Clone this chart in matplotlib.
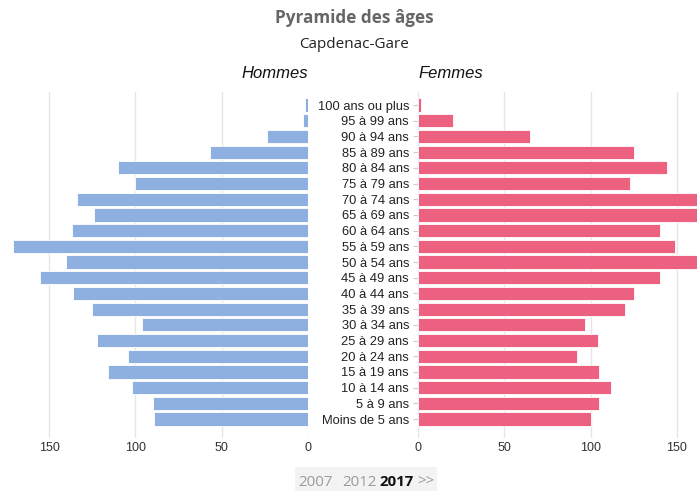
import matplotlib
matplotlib.use("Agg")
import matplotlib.pyplot as plt
from matplotlib.patches import Rectangle

categories = ["Moins de 5 ans", "5 à 9 ans", "10 à 14 ans", "15 à 19 ans", "20 à 24 ans",
              "25 à 29 ans", "30 à 34 ans", "35 à 39 ans", "40 à 44 ans", "45 à 49 ans",
              "50 à 54 ans", "55 à 59 ans", "60 à 64 ans", "65 à 69 ans", "70 à 74 ans",
              "75 à 79 ans", "80 à 84 ans", "85 à 89 ans", "90 à 94 ans", "95 à 99 ans",
              "100 ans ou plus"]
hommes = [89, 90, 102, 116, 104, 122, 96, 125, 136, 155, 140, 171, 137, 124, 134,
          100, 110, 57, 24, 3, 2]
femmes = [100, 105, 112, 105, 92, 104, 97, 120, 125, 140, 172, 149, 140, 166, 168,
          123, 144, 125, 65, 20, 2]
xticks = [0, 50, 100, 150]
title = "Pyramide des âges"
subtitle = "Capdenac-Gare"
years = ["2007", "2012", "2017", ">>"]

W, H = 697, 491
fig = plt.figure(figsize=(W / 100, H / 100), dpi=100)

def fx(px):
    return px / W

def fy(py):
    return 1 - py / H

blue = "#8eb0e0"
pink = "#ec6080"
grid_c = "#e6e6e6"
label_c = "#222222"
font = "Liberation Sans"

ax_bottom = fy(438)
ax_h = (438 - 92) / H
axL = fig.add_axes([0, ax_bottom, fx(308), ax_h])
axR = fig.add_axes([fx(418), ax_bottom, fx(697 - 418), ax_h])

ypos = list(range(len(categories)))
axL.barh(ypos, hommes, height=0.84, color=blue, edgecolor="white", linewidth=0.6, zorder=3)
axR.barh(ypos, femmes, height=0.84, color=pink, edgecolor="white", linewidth=0.6, zorder=3)

axL.set_xlim(308 / 1.726, 0)
axR.set_xlim(0, (697 - 418) / 1.726)
for ax in (axL, axR):
    ax.set_ylim(-1.21, 20.83)
    for s in ax.spines.values():
        s.set_visible(False)
    ax.set_xticks(xticks)
    ax.set_xticklabels([str(v) for v in xticks], fontsize=9, color="#333333", family=font)
    ax.tick_params(axis="x", length=0, pad=3)
    ax.grid(axis="x", color=grid_c, linewidth=1, zorder=0)
    ax.set_axisbelow(True)
    ax.set_facecolor("none")

axL.set_yticks([])
axR.set_yticks(ypos)
axR.set_yticklabels(categories, fontsize=9.3, color=label_c, family=font)
axR.tick_params(axis="y", length=3.8, width=0.8, color="#cccccc", pad=2.6)

fig.text(fx(354.5), fy(18), title, ha="center", va="center", fontsize=12.3,
         fontweight="bold", color="#666666", family="Open Sans")
fig.text(fx(354), fy(44), subtitle, ha="center", va="center", fontsize=11,
         color="#222222", family="Open Sans")
fig.text(fx(308), fy(74), "Hommes", ha="right", va="center", fontsize=12,
         style="italic", color="#111111", family=font)
fig.text(fx(418), fy(74), "Femmes", ha="left", va="center", fontsize=12,
         style="italic", color="#111111", family=font)

fig.patches.append(Rectangle((fx(295), 0), fx(437 - 295), (491 - 467) / H,
                             transform=fig.transFigure, facecolor="#f3f3f3",
                             edgecolor="none", zorder=0))
xs = [298, 342, 379, 417]
for x, t in zip(xs, years):
    bold = t == "2017"
    fig.text(fx(x), fy(482), t, ha="left", va="center", fontsize=10.8,
             color="#111111" if bold else "#999999",
             fontweight="bold" if bold else "normal", family="Open Sans")

fig.savefig("out.png", dpi=100)
